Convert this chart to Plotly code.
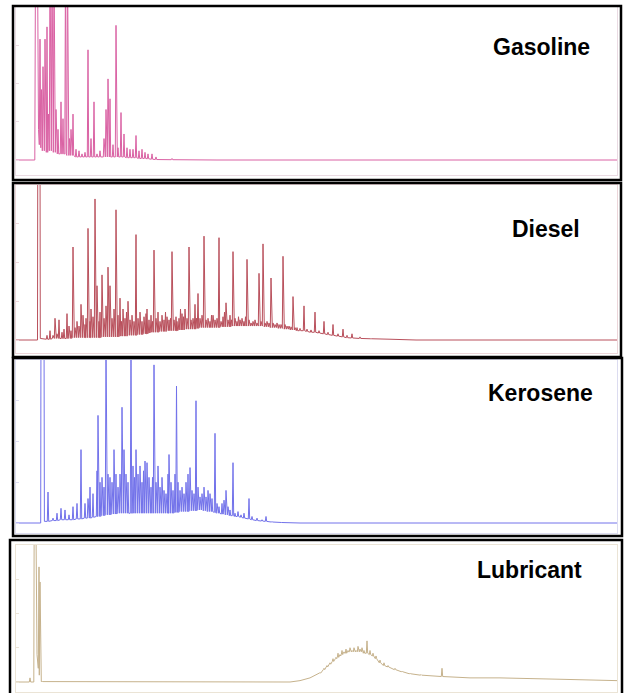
import plotly.graph_objects as go

W, H = 624, 693

# ---------------- data (retention time in min, signal in % of full scale) ----------------
panel_names = ["Gasoline", "Diesel", "Kerosene", "Lubricant"]
trace_colors = ["#da62a4", "#b9505c", "#7272ea", "#c6b28c"]
frame_colors = ["#eadbe3", "#ecd6da", "#dcdcf0", "#ebe4d6"]

# (retention time, apex signal, local floor signal); apex == floor -> a single trace point
gasoline_peaks = [
    (0, 0, 0), (1.88, 0, 0), (1.95, 130, 130), (2.15, 130, 130), (2.25, 20, 20), (2.4, 79, 10),
    (2.55, 46, 8), (2.7, 61, 6), (2.9, 79, 6), (3.1, 87, 5), (3.25, 30, 6), (3.4, 130, 6),
    (3.6, 130, 6), (3.8, 130, 5), (4.0, 33, 5), (4.2, 20, 4), (4.5, 38, 4), (4.7, 27, 4),
    (4.95, 130, 4), (5.15, 130, 3), (5.35, 14, 3), (5.5, 20, 3), (5.7, 30, 3), (6.0, 7, 2),
    (6.3, 6, 2), (6.6, 4, 2), (6.9, 5, 2), (7.2, 72, 2), (7.5, 14, 2), (7.8, 38, 2), (8.1, 4, 2),
    (8.4, 6, 2), (8.8, 14, 2), (9.0, 33, 2), (9.2, 53, 2), (9.4, 40, 2), (9.7, 10, 2),
    (10.0, 88, 2), (10.2, 8, 2), (10.5, 31, 2), (10.8, 17, 2), (11.1, 8, 1.5), (11.4, 7, 1.5),
    (11.7, 7, 1.5), (12.0, 16, 1.5), (12.3, 6, 1), (12.6, 7, 1), (12.9, 5, 1), (13.2, 4, 0.8),
    (13.6, 4, 0.5), (14.0, 2, 0.3), (15.6, 1, 0.2), (20.0, 0, 0), (60.1, 0, 0),
]

diesel_peaks = [
    (0, 0, 0), (2.15, 0, 0), (2.18, 130, 130), (2.4, 130, 130), (2.43, 1, 1),
    (3.1, 3, 0.5), (3.4, 6, 0.5), (3.7, 3, 1), (3.9, 14, 1), (4.1, 4, 1), (4.3, 13, 1),
    (4.6, 5, 1), (4.8, 7, 1), (5.1, 17, 1), (5.3, 9, 1), (5.5, 6, 1), (5.7, 60, 1.5),
    (5.9, 8, 1.5), (6.1, 12, 1.5), (6.3, 9, 1.5), (6.5, 23, 1.5), (6.7, 16, 1.5), (6.9, 10, 1.5),
    (7.0, 14, 1.5), (7.2, 72, 1.5), (7.4, 12, 1.5), (7.5, 20, 1.5), (7.7, 15, 1.5), (7.9, 91, 1.5),
    (8.1, 35, 1.5), (8.3, 12, 1.5), (8.4, 18, 1.5), (8.6, 42, 2), (8.8, 14, 2), (9.0, 22, 2),
    (9.2, 47, 2), (9.4, 35, 2), (9.6, 14, 2), (9.8, 20, 2), (10.0, 84, 2), (10.2, 16, 2),
    (10.4, 27, 2.5), (10.55, 12, 2.5), (10.7, 20, 2.5), (10.9, 14, 2.5), (11.05, 18, 2.5),
    (11.2, 25, 3), (11.4, 13, 3), (11.6, 16, 3), (11.8, 12, 3), (12.0, 68, 3), (12.2, 14, 3.5),
    (12.4, 18, 3.5), (12.6, 12, 3.5), (12.8, 15, 4), (13.0, 17, 4), (13.1, 20, 4), (13.3, 13, 4.5),
    (13.5, 16, 5), (13.65, 12, 5), (13.8, 58, 5), (14.0, 14, 5), (14.2, 18, 5), (14.4, 12, 5.5),
    (14.6, 16, 5.5), (14.8, 13, 5.5), (14.95, 18, 5.5), (15.1, 15, 6), (15.3, 13, 6), (15.45, 14, 6),
    (15.6, 57, 6), (15.8, 13, 6), (16.0, 15, 6), (16.1, 12, 6), (16.3, 14, 6.5), (16.45, 20, 6.5),
    (16.6, 17, 6.5), (16.75, 15, 6.5), (16.9, 20, 7), (17.1, 14, 7), (17.3, 60, 7), (17.5, 13, 7),
    (17.7, 14, 7), (17.9, 23, 7), (18.05, 14, 7.5), (18.2, 30, 7.5), (18.4, 14, 8), (18.6, 16, 8),
    (18.8, 67, 8), (19.0, 13, 8), (19.2, 14, 8), (19.4, 12, 8), (19.55, 16, 8), (19.7, 16, 8),
    (19.9, 13, 8), (20.1, 14, 8), (20.3, 66, 8), (20.5, 12, 8.5), (20.7, 15, 8.5), (20.85, 18, 8.5),
    (21.0, 24, 8.5), (21.2, 13, 8.5), (21.4, 16, 8.5), (21.55, 13, 9), (21.7, 57, 9), (21.9, 14, 9),
    (22.1, 12, 9), (22.25, 15, 9), (22.4, 13, 9), (22.6, 14, 9), (22.8, 12, 9), (22.95, 15, 9),
    (23.1, 52, 9), (23.3, 13, 9), (23.5, 11, 9), (23.7, 12, 9), (23.9, 13, 9), (24.1, 11, 9),
    (24.3, 43, 9), (24.5, 12, 9), (24.7, 62, 9), (24.9, 11, 8.5), (25.1, 12, 8.5), (25.3, 11, 8.5),
    (25.5, 40, 8), (25.7, 11, 8), (25.9, 10, 8), (26.1, 11, 8), (26.3, 10, 7.5), (26.5, 10, 7.5),
    (26.7, 54, 7.5), (26.9, 10, 7), (27.1, 9, 7), (27.3, 9, 7), (27.5, 8.5, 6.5), (27.7, 28, 6.5),
    (27.9, 8, 6.5), (28.1, 8, 6), (28.4, 7.5, 6), (28.8, 22, 6), (29.1, 7, 5.5), (29.5, 6.5, 5),
    (29.9, 18, 5), (30.3, 6, 4.5), (30.8, 12, 4), (31.2, 5, 3.5), (31.7, 10, 3), (32.2, 4, 2.5),
    (32.7, 7, 2), (33.1, 3, 1.5), (33.6, 4, 1.3), (34.4, 2, 1), (35.5, 1, 0.8), (37.4, 0.5, 0.5),
    (40.0, 0, 0), (60.1, 0, 0),
]

kerosene_peaks = [
    (0, 0, 0), (2.47, 0, 0), (2.5, 130, 130), (2.8, 130, 130), (2.84, 1, 1), (3.2, 19, 1),
    (3.7, 3, 1.5), (4.1, 6, 1.5), (4.5, 9, 2), (4.9, 8, 2), (5.3, 5, 2), (5.7, 10, 2),
    (6.1, 12, 2.5), (6.5, 45, 2.5), (6.9, 12, 3), (7.2, 15, 3), (7.4, 22, 3), (7.7, 18, 3.5),
    (8.1, 32, 4), (8.2, 66, 4), (8.4, 25, 4), (8.6, 28, 4.5), (8.8, 22, 4.5), (9.0, 110, 5),
    (9.2, 30, 5), (9.4, 28, 5), (9.6, 25, 5.5), (9.8, 45, 5.5), (10.0, 30, 5.5), (10.2, 22, 6),
    (10.4, 30, 6), (10.6, 71, 6), (10.8, 45, 6), (11.0, 30, 6), (11.2, 25, 6), (11.5, 110, 6),
    (11.7, 35, 6), (11.85, 28, 6), (12.0, 45, 6), (12.2, 30, 6), (12.4, 35, 6), (12.6, 25, 6),
    (12.75, 32, 6), (12.9, 38, 6), (13.1, 37, 6), (13.3, 28, 6), (13.5, 22, 6), (13.65, 28, 6),
    (13.8, 97, 6), (14.0, 25, 6), (14.2, 35, 6), (14.4, 22, 6), (14.6, 28, 6), (14.8, 20, 6),
    (15.0, 18, 6), (15.2, 30, 6), (15.3, 42, 6), (15.5, 25, 6), (15.7, 20, 6), (15.9, 30, 6.5),
    (16.05, 84, 6.5), (16.2, 25, 6.5), (16.4, 20, 7), (16.6, 22, 7), (16.8, 18, 7), (17.0, 25, 7),
    (17.2, 30, 7), (17.4, 34, 7.5), (17.6, 20, 7.5), (17.8, 18, 7.5), (18.0, 75, 7.5),
    (18.2, 22, 8), (18.4, 16, 8), (18.6, 18, 8), (18.8, 22, 7.5), (19.0, 16, 7.5), (19.2, 20, 7),
    (19.4, 18, 7), (19.6, 15, 7), (19.9, 55, 6.5), (20.1, 12, 6), (20.3, 10, 6), (20.6, 12, 5.5),
    (20.8, 14, 5.5), (21.0, 20, 5), (21.2, 10, 5), (21.4, 8, 4.5), (21.7, 37, 4.5), (21.9, 6, 4),
    (22.2, 7, 4), (22.5, 5, 3.5), (22.8, 6, 3), (23.3, 15, 2.5), (23.6, 4, 2), (24.1, 3, 1.5),
    (24.6, 2, 1.2), (25.0, 4, 1), (25.6, 1, 0.6), (26.5, 0.5, 0.3), (28.4, 0, 0), (60.1, 0, 0),
]

lubricant_peaks = [
    (0, 0, 0), (1.3, 0, 0), (1.4, 3, 0), (1.6, 0, 0), (1.78, 0, 0), (1.82, 130, 130),
    (1.98, 130, 130), (2.1, 20, 20), (2.3, 84, 10), (2.4, 73, 5), (2.6, 0.5, 0.3), (27.4, 0, 0),
    (28.4, 1, 1), (29.4, 3, 3), (30.0, 5, 5), (30.4, 7, 6.5), (30.8, 10, 9), (31.1, 12, 11),
    (31.4, 14, 13), (31.7, 17, 15), (32.0, 18, 17), (32.2, 21, 18), (32.4, 20, 19), (32.6, 23, 20),
    (32.8, 22, 21), (33.0, 24, 21), (33.2, 23, 22), (33.4, 25, 22), (33.6, 23, 22), (33.8, 25, 22),
    (34.0, 23, 22), (34.2, 26, 22), (34.4, 24, 22), (34.6, 25, 22), (34.8, 23, 21), (35.1, 30, 21),
    (35.4, 23, 20), (35.7, 21, 19), (36.0, 19, 17), (36.4, 16, 14), (36.8, 14, 12), (37.2, 12, 11),
    (37.9, 10, 9), (38.6, 8, 7.5), (39.4, 6.5, 6), (40.5, 5.5, 5), (41.5, 4.5, 4.5), (42.3, 4, 4),
    (42.6, 10, 4), (45.4, 3, 3), (48.4, 3, 3), (54.4, 2, 2), (60.1, 1, 1),
]

all_peaks = [gasoline_peaks, diesel_peaks, kerosene_peaks, lubricant_peaks]

# ---------------- layout geometry (pixels) ----------------
# box: x0, y0, x1, y1 ; plot: top, baseline, bottom
boxes = [(13, 6, 621, 180), (13, 183, 621, 357), (13, 358, 622, 536), (10, 540, 622, 700)]
plot_rows = [(7, 160, 175), (185, 340, 353), (360, 523, 533), (545, 682, 692)]
label_pos = [(541, 47), (546, 229), (540, 393), (529, 570)]
x_left, x_right = 16, 617


def px_x(p):
    return p / W


def px_y(p):
    return 1 - p / H


def polyline(peaks, w=0.07):
    xs, ys = [], []
    for rt, apex, floor in peaks:
        if apex == floor:
            xs.append(rt); ys.append(floor)
        else:
            xs += [rt - w, rt, rt + w]
            ys += [floor, apex, floor]
    return xs, ys


fig = go.Figure()
layout = dict(
    width=W, height=H, margin=dict(l=0, r=0, t=0, b=0),
    paper_bgcolor="white", plot_bgcolor="white", showlegend=False,
)
shapes = []
annotations = []

for i, (name, peaks) in enumerate(zip(panel_names, all_peaks)):
    n = "" if i == 0 else str(i + 1)
    xs, ys = polyline(peaks)
    fig.add_trace(go.Scatter(
        x=xs, y=ys, mode="lines", line=dict(color=trace_colors[i], width=1),
        xaxis="x" + n, yaxis="y" + n, hoverinfo="skip",
    ))
    top, base, bottom = plot_rows[i]
    ymin = -(bottom - base) / (base - top) * 100
    layout["xaxis" + n] = dict(
        domain=[px_x(x_left), px_x(x_right)], range=[0, 60.1], anchor="y" + n,
        showgrid=False, zeroline=False, showticklabels=False, ticks="",
        showline=True, linecolor=frame_colors[i], linewidth=1, mirror=True, fixedrange=True,
    )
    layout["yaxis" + n] = dict(
        domain=[px_y(bottom), px_y(top)], range=[ymin, 100], anchor="x" + n,
        showgrid=False, zeroline=False, showticklabels=False,
        ticks="inside", ticklen=3, tickcolor=frame_colors[i], tick0=0, dtick=25,
        showline=True, linecolor=frame_colors[i], linewidth=1, mirror=True, fixedrange=True,
    )
    x0, y0, x1, y1 = boxes[i]
    shapes.append(dict(
        type="rect", xref="paper", yref="paper",
        x0=px_x(x0), x1=px_x(x1), y0=px_y(y1), y1=px_y(y0),
        line=dict(color="black", width=2.5), fillcolor="rgba(0,0,0,0)", layer="above",
    ))
    lx, ly = label_pos[i]
    annotations.append(dict(
        text="<b>%s</b>" % name, xref="paper", yref="paper",
        x=px_x(lx), y=px_y(ly), xanchor="center", yanchor="middle", showarrow=False,
        font=dict(family="Liberation Sans, Arial, sans-serif", size=23, color="black"),
    ))

layout["shapes"] = shapes
layout["annotations"] = annotations
fig.update_layout(**layout)
fig.write_html("out.html")
